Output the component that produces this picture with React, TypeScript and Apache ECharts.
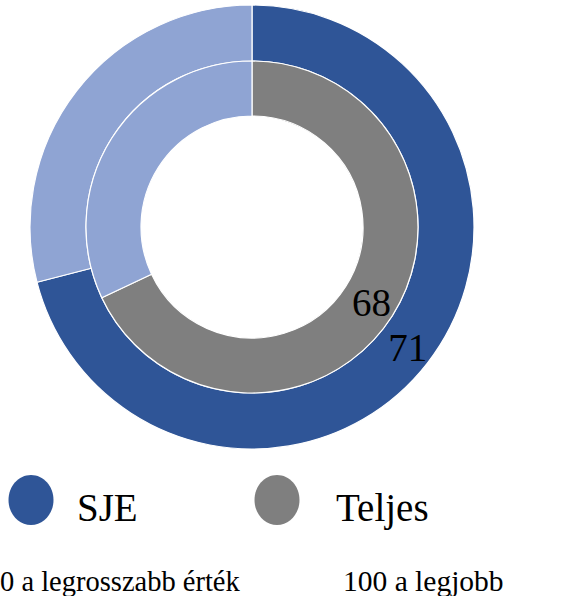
import React, { useEffect, useRef } from "react";
import * as echarts from "echarts";

const seriesNames = ["SJE", "Teljes"];
const scores = [71, 68];
const maxScore = 100;
const legendLabels = ["SJE", "Teljes"];
const footnotes = ["0 a legrosszabb érték", "100 a legjobb"];

const DARK = "#2F5597";
const LIGHT = "#8FA4D3";
const GRAY = "#7F7F7F";
const FONT = "Liberation Serif";

export default function App() {
  const ref = useRef<HTMLDivElement>(null);
  useEffect(() => {
    if (!ref.current) return;
    const chart = echarts.init(ref.current, undefined, { renderer: "svg" });
    const colors = [DARK, GRAY];
    const radii: [number, number][] = [
      [166, 222],
      [111, 166],
    ];
    const series = seriesNames.map((name, i) => ({
      type: "pie",
      name,
      center: [252, 227],
      radius: radii[i],
      startAngle: 90,
      clockwise: true,
      silent: true,
      itemStyle: { borderColor: "#fff", borderWidth: 1.2 },
      labelLine: { show: false },
      data: [
        {
          name,
          value: scores[i],
          itemStyle: { color: colors[i] },
          label: {
            show: true,
            position: "inside",
            formatter: "{c}",
            color: "#000",
            fontSize: 39,
            fontFamily: FONT,
          },
        },
        {
          name: name + "-rest",
          value: maxScore - scores[i],
          itemStyle: { color: LIGHT },
          label: { show: false },
        },
      ],
    }));
    const txt = (text: string, x: number, y: number, size: number, align = "left") => ({
      type: "text",
      x,
      y,
      style: { text, fontFamily: FONT, fontSize: size, fill: "#000", align, verticalAlign: "middle" },
    });
    chart.setOption({
      animation: false,
      series,
      graphic: [
        { type: "ellipse", shape: { cx: 31, cy: 500, rx: 22.5, ry: 25 }, style: { fill: DARK } },
        txt(legendLabels[0], 77, 507, 39),
        { type: "ellipse", shape: { cx: 277, cy: 500, rx: 22.5, ry: 25 }, style: { fill: GRAY } },
        txt(legendLabels[1], 336, 507, 39),
        txt(footnotes[0], 0, 581, 28.5),
        txt(footnotes[1], 343, 581, 29.5),
      ],
    });
    return () => chart.dispose();
  }, []);
  return <div ref={ref} style={{ width: 570, height: 596, position: "absolute", left: 0, top: 0 }} />;
}
